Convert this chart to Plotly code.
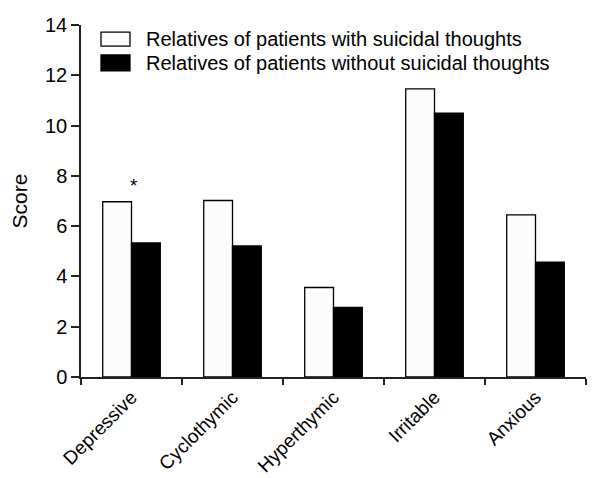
import plotly.graph_objects as go

categories = ["Depressive", "Cyclothymic", "Hyperthymic", "Irritable", "Anxious"]
with_thoughts = [6.97, 7.02, 3.56, 11.46, 6.45]
without_thoughts = [5.33, 5.21, 2.77, 10.49, 4.57]
series_names = ["Relatives of patients with suicidal thoughts",
                "Relatives of patients without suicidal thoughts"]
y_ticks = [0, 2, 4, 6, 8, 10, 12, 14]

FONT = "Liberation Sans, Arial, sans-serif"

fig = go.Figure()
fig.add_trace(go.Bar(x=categories, y=with_thoughts, name=series_names[0],
                     marker=dict(color="#fcfcfc", line=dict(color="black", width=1.3)),
                     showlegend=False))
fig.add_trace(go.Bar(x=categories, y=without_thoughts, name=series_names[1],
                     marker=dict(color="black", line=dict(color="black", width=1.3)),
                     showlegend=False))

# significance marker
fig.add_annotation(x=categories[0], y=with_thoughts[0], text="*", showarrow=False,
                   xshift=2, yshift=16, yanchor="middle",
                   font=dict(family=FONT, size=19, color="black"))

# manual legend (box + label)
legend_rows = [(0.980, 0.940, "#fcfcfc"), (0.915, 0.870, "black")]
for (y1, y0, col), name in zip(legend_rows, series_names):
    fig.add_shape(type="rect", xref="paper", yref="paper", x0=0.0396, x1=0.097,
                  y0=y0, y1=y1, fillcolor=col, line=dict(color="black", width=1.3))
    fig.add_annotation(xref="paper", yref="paper", x=0.125, y=(y0 + y1) / 2,
                       text=name, showarrow=False, xanchor="left", yanchor="middle",
                       font=dict(family=FONT, size=20, color="black"))

fig.update_layout(
    width=607, height=478,
    margin=dict(l=73, r=29, t=17, b=109),
    paper_bgcolor="white", plot_bgcolor="white",
    barmode="group", bargap=0.43, bargroupgap=0,
    font=dict(family=FONT, size=19, color="black"),
    showlegend=False,
)
fig.update_xaxes(
    tickangle=-45, showline=True, linecolor="#222", linewidth=1.5,
    ticks="outside", ticklen=6, tickwidth=1.5, tickcolor="#222",
    tickson="boundaries", showgrid=False, zeroline=False, automargin=False,
    tickfont=dict(family=FONT, size=19, color="black"),
)
fig.update_yaxes(
    range=[0, 14], tickvals=y_ticks, showline=True, linecolor="#222", linewidth=1.5,
    ticks="outside", ticklen=8, tickwidth=1.5, tickcolor="#222",
    showgrid=False, zeroline=False, automargin=False,
    title=dict(text="Score", font=dict(family=FONT, size=21, color="black"), standoff=12),
    tickfont=dict(family=FONT, size=20, color="black"),
)

fig.write_html("out.html")
